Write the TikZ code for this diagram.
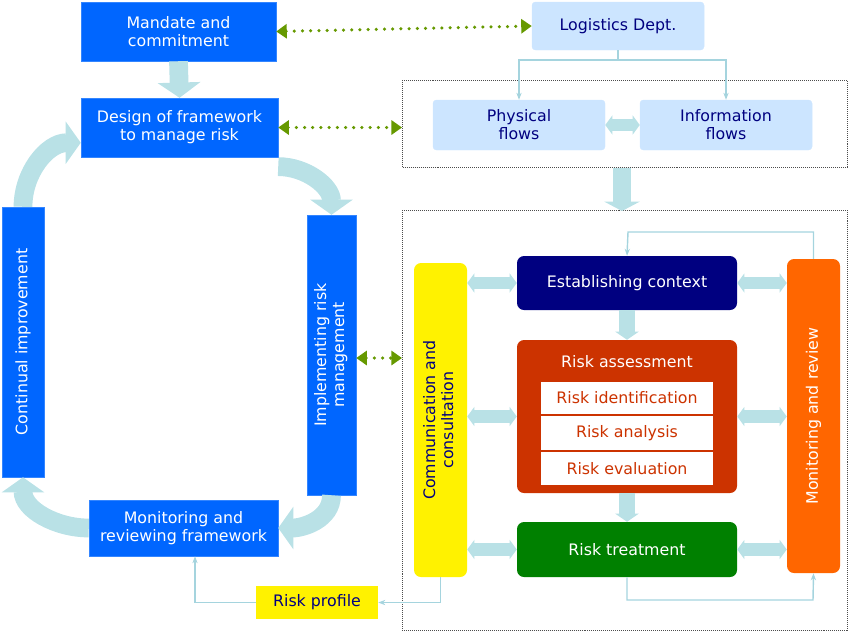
\documentclass[tikz,border=0pt]{standalone}
\usepackage{fontspec}
\setmainfont{DejaVu Sans}
\usetikzlibrary{arrows.meta,calc}

\definecolor{boxblue}{RGB}{0,102,255}
\definecolor{paleblue}{RGB}{204,229,255}
\definecolor{fatblue}{RGB}{185,225,230}
\definecolor{thinblue}{RGB}{165,212,222}
\definecolor{dotgreen}{RGB}{102,153,0}
\definecolor{riskred}{RGB}{204,51,0}
\definecolor{navybox}{RGB}{0,0,128}
\definecolor{treatgreen}{RGB}{0,128,0}
\definecolor{orangebox}{RGB}{255,102,0}

\tikzset{
  box/.style={fill=boxblue, draw=boxblue!80, text=white, align=center, inner sep=0pt, font=\fontsize{13.5}{15.5}\selectfont},
  pale/.style={fill=paleblue, draw=paleblue, text=navybox, align=center, inner sep=0pt, rounded corners=3pt, font=\fontsize{13.5}{15.5}\selectfont},
  stage/.style={rounded corners=6pt, align=center, inner sep=0pt, font=\fontsize{13.5}{15.5}\selectfont},
  sub/.style={fill=white, draw=riskred, line width=1.5pt, text=riskred, inner sep=0pt, font=\fontsize{13.5}{15.5}\selectfont},
  fat/.style={draw=fatblue, line width=16pt, -{Triangle[length=13pt,width=36pt]}},
  dbl/.style={draw=fatblue, line width=11pt, {Triangle[length=6pt,width=16pt]}-{Triangle[length=6pt,width=16pt]}},
  thin/.style={draw=thinblue, line width=1.2pt, -{Stealth[length=6pt]}},
  dots/.style={draw=dotgreen, line width=3pt, line cap=round, dash pattern=on 0pt off 7pt, {Triangle[length=9pt,width=12pt]}-{Triangle[length=9pt,width=12pt]}},
  frame/.style={draw=black!70, densely dotted, line width=0.7pt}
}

\begin{document}
\begin{tikzpicture}[x=0.03cm,y=-0.03cm]
  \useasboundingbox (0,0) rectangle (850,631);

  % framework boxes
  \node[box, minimum width=5.85cm, minimum height=1.77cm] (mandate) at (178.5,31.5) {Mandate and\\commitment};
  \node[box, minimum width=5.91cm, minimum height=1.77cm] (design) at (179.5,127.5) {Design of framework\\to manage risk};
  \node[box, minimum width=1.26cm, minimum height=8.1cm] (improve) at (23,342) {\rotatebox{90}{Continual improvement}};
  \node[box, minimum width=1.47cm, minimum height=8.4cm] (implement) at (331.5,355) {\rotatebox{90}{\begin{tabular}{@{}c@{}}Implementing risk\\management\end{tabular}}};
  \node[box, minimum width=5.67cm, minimum height=1.68cm] (monframe) at (183.5,528) {Monitoring and\\reviewing framework};

  % logistics
  \node[pale, minimum width=5.16cm, minimum height=1.44cm] (logistics) at (618,26) {Logistics Dept.};
  \draw[frame] (402,80) rectangle (847,167);
  \node[pale, minimum width=5.16cm, minimum height=1.5cm] (physical) at (519,125) {Physical\\flows};
  \node[pale, minimum width=5.16cm, minimum height=1.5cm] (information) at (726,125) {Information\\flows};

  % risk management process
  \draw[frame] (402,210) rectangle (847,630);
  \node[stage, fill=yellow, text=navybox, minimum width=1.59cm, minimum height=9.42cm] (comm) at (440.5,420) {\rotatebox{90}{\begin{tabular}{@{}c@{}}Communication and\\consultation\end{tabular}}};
  \node[stage, fill=navybox, text=white, minimum width=6.6cm, minimum height=1.62cm] (context) at (627,283) {Establishing context};
  \node[stage, fill=riskred, minimum width=6.6cm, minimum height=4.59cm] (assess) at (627,416.5) {};
  \node[text=white, font=\fontsize{13.5}{15.5}\selectfont] (assesstitle) at (627,362) {Risk assessment};
  \node[sub, minimum width=5.22cm, minimum height=1.02cm] (ident) at (627,398) {Risk identification};
  \node[sub, minimum width=5.22cm, minimum height=1.08cm] (analysis) at (627,433) {Risk analysis};
  \node[sub, minimum width=5.22cm, minimum height=1.05cm] (evaluation) at (627,468.5) {Risk evaluation};
  \node[stage, fill=treatgreen, text=white, minimum width=6.6cm, minimum height=1.65cm] (treatment) at (627,549.5) {Risk treatment};
  \node[stage, fill=orangebox, text=white, minimum width=1.59cm, minimum height=9.42cm] (monreview) at (813.5,416) {\rotatebox{90}{Monitoring and review}};
  \node[fill=yellow, text=navybox, inner sep=0pt, minimum width=3.66cm, minimum height=0.99cm, font=\fontsize{13.5}{15.5}\selectfont] (profile) at (317,602.5) {Risk profile};

  % fat arrows of the framework cycle
  \draw[fat] (mandate.south) -- (design.north);
  \draw[fat] ([yshift=-8pt]design.south east) to[out=0,in=90] (implement.north);
  \draw[fat] (implement.south) to[out=-90,in=0] (monframe.east);
  \draw[fat] (monframe.west) to[out=180,in=-90] (improve.south);
  \draw[fat] (improve.north) to[out=90,in=180] ([yshift=-13pt]design.west);

  % links to the logistics side
  \draw[dots] (mandate.east) -- (logistics.west);
  \draw[dots] (design.east) -- (design.east -| 402,0);
  \draw[dots] (implement.east |- 0,358) -- (402,358);
  \coordinate (split) at (618,60);
  \draw[thinblue, line width=1.2pt] (logistics.south) -- (split);
  \draw[thin] (split) -| (physical.north);
  \draw[thin] (split) -| (information.north);
  \draw[dbl] (physical.east) -- (information.west);
  \draw[draw=fatblue, line width=16pt, -{Triangle[length=8pt,width=30pt]}] (622,168) -- (622,211);

  % process arrows
  \draw[fat, line width=14pt, -{Triangle[length=7pt,width=20pt]}] (context.south) -- (assess.north);
  \draw[fat, line width=14pt, -{Triangle[length=7pt,width=20pt]}] (assess.south) -- (treatment.north);
  \foreach \n in {context,assess,treatment}{
    \draw[dbl] (comm.east |- \n) -- (\n.west);
    \draw[dbl] (\n.east) -- (monreview.west |- \n);
  }
  \draw[thin] (monreview.north) |- (628,232) -- (context.north);
  \draw[thin] (treatment.south) |- (813,600) -- (monreview.south);
  \draw[thin] (comm.south) |- (profile.east);
  \draw[thin] (profile.west) -| (monframe.south -| 195,0);
\end{tikzpicture}
\end{document}
